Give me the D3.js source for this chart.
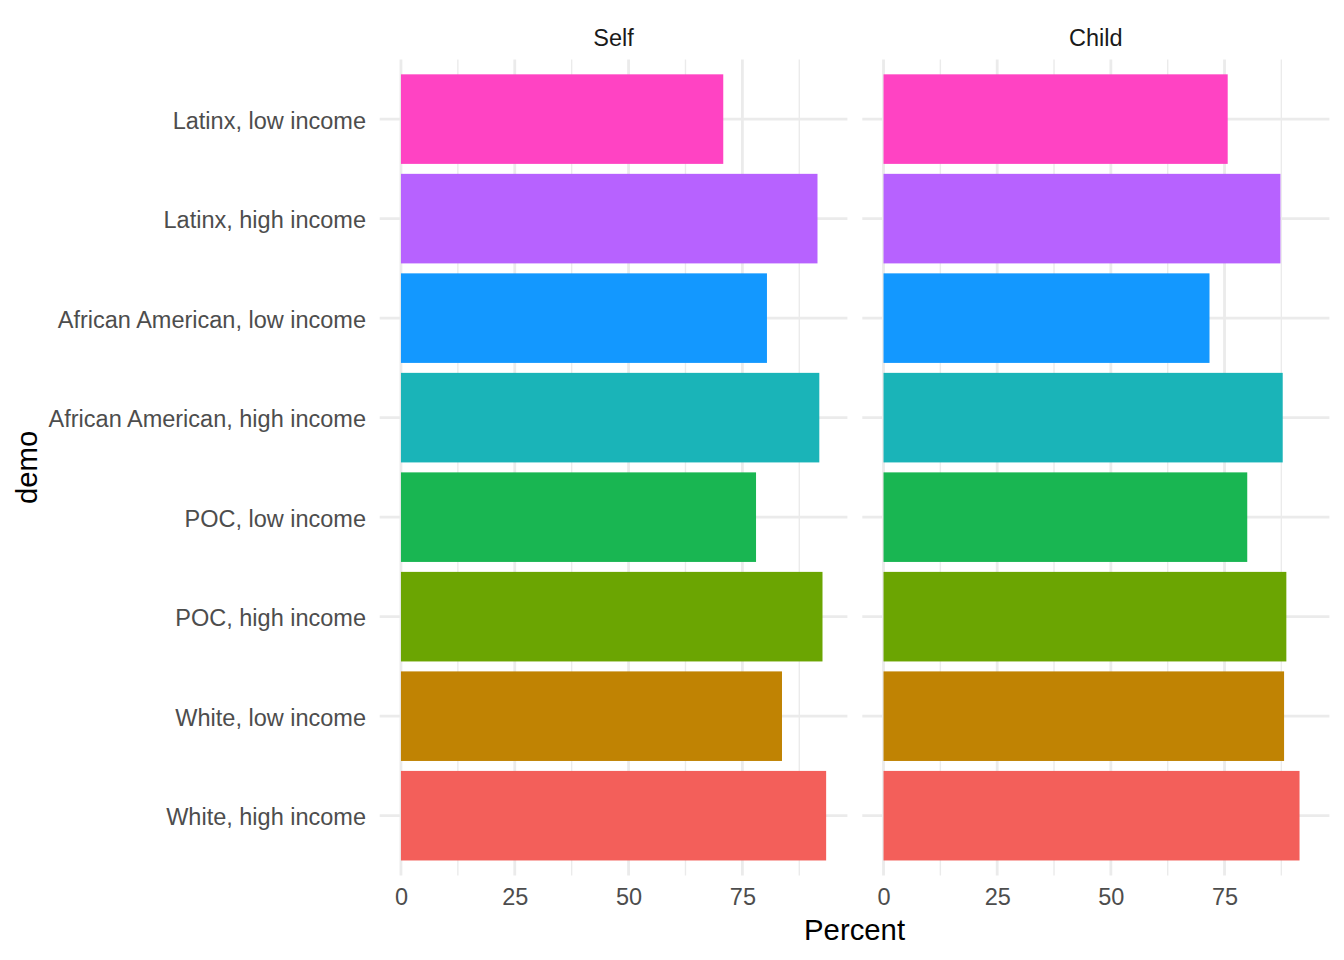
<!DOCTYPE html>
<html>
<head>
<meta charset="utf-8">
<script src="https://cdn.jsdelivr.net/npm/d3@7"></script>
<style>
  body { margin: 0; background: #fff; }
  text { font-family: "Liberation Sans", Arial, sans-serif; }
</style>
</head>
<body>
<script>
// categories, top to bottom as drawn
var demos = [
  "Latinx, low income",
  "Latinx, high income",
  "African American, low income",
  "African American, high income",
  "POC, low income",
  "POC, high income",
  "White, low income",
  "White, high income"
];
var facets = ["Self", "Child"];
var selfValues = [70.8, 91.5, 80.4, 91.9, 78.0, 92.6, 83.7, 93.4];
var childValues = [75.7, 87.3, 71.7, 87.8, 80.0, 88.6, 88.1, 91.5];
var fillColors = ["#FF43C3", "#B762FF", "#1398FF", "#1AB4B8", "#19B652", "#6BA502", "#C08303", "#F35F5A"];
var xTicks = [0, 25, 50, 75];
var xMinor = [12.5, 37.5, 62.5, 87.5];

function create_chart() {
  var width = 1344;
  var height = 960;

  var svg = d3.select("body")
    .append("svg")
    .attr("width", width)
    .attr("height", height);

  var panelTop = 59.4;
  var panelBottom = 875.4;
  var panels = [
    { name: facets[0], left: 379.7, right: 847.4, values: selfValues },
    { name: facets[1], left: 862.3, right: 1329.4, values: childValues }
  ];

  var maxVal = d3.max(selfValues.concat(childValues));
  var pad = maxVal * 0.05;

  var y = d3.scaleBand()
    .domain(demos)
    .range([panelTop, panelBottom])
    .paddingInner(0.1)
    .paddingOuter(0.15);

  var grid = "#EBEBEB";

  panels.forEach(function (p) {
    var x = d3.scaleLinear()
      .domain([-pad, maxVal + pad])
      .range([p.left, p.right]);

    var g = svg.append("g");

    // minor grid
    g.selectAll("line.minor")
      .data(xMinor)
      .enter()
      .append("line")
      .attr("x1", function (d) { return x(d); })
      .attr("x2", function (d) { return x(d); })
      .attr("y1", panelTop)
      .attr("y2", panelBottom)
      .attr("stroke", grid)
      .attr("stroke-width", 1.4);

    // major grid
    g.selectAll("line.majx")
      .data(xTicks)
      .enter()
      .append("line")
      .attr("x1", function (d) { return x(d); })
      .attr("x2", function (d) { return x(d); })
      .attr("y1", panelTop)
      .attr("y2", panelBottom)
      .attr("stroke", grid)
      .attr("stroke-width", 2.8);

    g.selectAll("line.majy")
      .data(demos)
      .enter()
      .append("line")
      .attr("x1", p.left)
      .attr("x2", p.right)
      .attr("y1", function (d) { return y(d) + y.bandwidth() / 2; })
      .attr("y2", function (d) { return y(d) + y.bandwidth() / 2; })
      .attr("stroke", grid)
      .attr("stroke-width", 2.8);

    // bars
    g.selectAll("rect")
      .data(p.values)
      .enter()
      .append("rect")
      .attr("x", x(0))
      .attr("y", function (d, i) { return y(demos[i]); })
      .attr("width", function (d) { return x(d) - x(0); })
      .attr("height", y.bandwidth())
      .attr("fill", function (d, i) { return fillColors[i]; });

    // x axis tick labels
    var axis = d3.axisBottom(x).tickValues(xTicks).tickSize(0).tickPadding(0);
    var ax = svg.append("g")
      .attr("transform", "translate(0," + 888.5 + ")")
      .call(axis);
    ax.select(".domain").remove();
    ax.selectAll("text")
      .attr("dy", "0.71em")
      .attr("y", 0)
      .attr("fill", "#4D4D4D")
      .style("font-size", "23.5px")
      .style("font-family", "'Liberation Sans', Arial, sans-serif");

    // strip label
    svg.append("text")
      .attr("x", (p.left + p.right) / 2)
      .attr("y", 45.5)
      .attr("text-anchor", "middle")
      .attr("fill", "#1A1A1A")
      .style("font-size", "23.5px")
      .text(p.name);
  });

  // y axis labels
  var yAxis = d3.axisLeft(y).tickSize(0).tickPadding(0);
  var ay = svg.append("g")
    .attr("transform", "translate(366,0)")
    .call(yAxis);
  ay.select(".domain").remove();
  ay.selectAll("text")
    .attr("x", 0)
    .attr("dy", "0.41em")
    .attr("fill", "#4D4D4D")
    .style("font-size", "23.5px")
    .style("font-family", "'Liberation Sans', Arial, sans-serif");

  // axis titles
  svg.append("text")
    .attr("x", (panels[0].left + panels[1].right) / 2)
    .attr("y", 940)
    .attr("text-anchor", "middle")
    .attr("fill", "#000")
    .style("font-size", "29.3px")
    .text("Percent");

  svg.append("text")
    .attr("transform", "translate(37," + (panelTop + panelBottom) / 2 + ") rotate(-90)")
    .attr("text-anchor", "middle")
    .attr("fill", "#000")
    .style("font-size", "29.3px")
    .text("demo");
}

create_chart();
</script>
</body>
</html>
